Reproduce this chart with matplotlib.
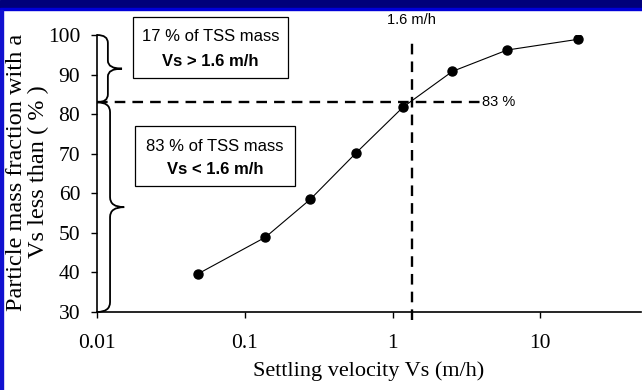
import numpy as np
import matplotlib
matplotlib.use("Agg")
import matplotlib.pyplot as plt
from matplotlib.patches import Rectangle, PathPatch
from matplotlib.path import Path

# settling velocity distribution
velocity = [0.048, 0.138, 0.278, 0.57, 1.18, 2.54, 5.96, 17.9]      # m/h
mass_fraction = [39.6, 48.9, 58.5, 70.3, 81.8, 90.8, 96.2, 98.9]   # %

cut_pos = 1.35        # where the dashed vertical sits on the axis
cut_label = "1.6 m/h"
cut_fraction = 83.0
x_ticks = [0.01, 0.1, 1, 10]
x_tick_labels = ["0.01", "0.1", "1", "10"]
y_ticks = [30, 40, 50, 60, 70, 80, 90, 100]

serif = "Liberation Serif"
sans = "Liberation Sans"

W, H = 642, 390
fig = plt.figure(figsize=(W / 100, H / 100), dpi=100)
fig.patch.set_facecolor("white")

# slide frame: dark top bar and blue left strip
fig.patches.append(Rectangle((0, 1 - 8 / H), 1, 8 / H, transform=fig.transFigure,
                             color="#00007a", zorder=0))
fig.patches.append(Rectangle((0, 1 - 10 / H), 1, 2 / H, transform=fig.transFigure,
                             color="#0000d8", zorder=0))
fig.patches.append(Rectangle((0, 0), 3 / W, 1 - 10 / H, transform=fig.transFigure,
                             color="#1010d0", zorder=0))

ax = fig.add_axes([97 / W, 1 - 312 / H, (641 - 97) / W, (312 - 35) / H])
ax.set_facecolor("none")

ax.plot(velocity, mass_fraction, color="black", lw=0.8, marker="o",
        markersize=6.5, markerfacecolor="black", markeredgecolor="black", zorder=3)

ax.set_xscale("log")
ax.set_xlim(0.01, 48)
ax.set_ylim(30, 100)
ax.set_xticks(x_ticks)
ax.set_xticklabels(x_tick_labels)
ax.xaxis.set_minor_locator(matplotlib.ticker.NullLocator())
ax.set_yticks(y_ticks)

for s in ["top", "right"]:
    ax.spines[s].set_visible(False)
for s in ["left", "bottom"]:
    ax.spines[s].set_linewidth(1.2)

ax.tick_params(axis="x", direction="out", length=4, width=1, pad=12, labelsize=15.5)
ax.tick_params(axis="y", direction="out", length=4, width=1, pad=8, labelsize=15.5)
for lab in ax.get_xticklabels() + ax.get_yticklabels():
    lab.set_fontfamily(serif)

ax.set_xlabel("Settling velocity Vs (m/h)", fontsize=16, family=serif, labelpad=6)
ax.set_ylabel("Particle mass fraction with a\nVs less than ( % )", fontsize=17.5,
              family=serif, linespacing=1.05, va="center", ha="center")
ax.yaxis.set_label_coords(-0.127, 0.505)

# dashed guide lines
ax.plot([0.01, 3.95], [cut_fraction, cut_fraction], color="black", lw=1.7,
        dashes=(4.5, 3), clip_on=False, zorder=2)
ax.plot([cut_pos, cut_pos], [28, 98.9], color="black", lw=1.7,
        dashes=(4.5, 3), clip_on=False, zorder=2)
ax.text(4.05, cut_fraction, "83 %", family=sans, fontsize=10.5, va="center", ha="left")
ax.text(cut_pos, 103.9, cut_label, family=sans, fontsize=10.5, va="center", ha="center")

# annotation boxes
ax.add_patch(Rectangle((0.066, 0.845), 0.285, 0.22, transform=ax.transAxes,
                       fill=False, lw=0.9, edgecolor="black", clip_on=False))
ax.text(0.2086, 0.993, "17 % of TSS mass", transform=ax.transAxes, family=sans,
        fontsize=12, ha="center", va="center")
ax.text(0.2086, 0.906, "Vs > 1.6 m/h", transform=ax.transAxes, family=sans,
        fontsize=12, fontweight="bold", ha="center", va="center")

ax.add_patch(Rectangle((0.070, 0.455), 0.294, 0.216, transform=ax.transAxes,
                       fill=False, lw=0.9, edgecolor="black", clip_on=False))
ax.text(0.217, 0.596, "83 % of TSS mass", transform=ax.transAxes, family=sans,
        fontsize=12, ha="center", va="center")
ax.text(0.217, 0.513, "Vs < 1.6 m/h", transform=ax.transAxes, family=sans,
        fontsize=12, fontweight="bold", ha="center", va="center")


def brace(y_lo, y_hi, x_mid, x_tip, r):
    ym = (y_lo + y_hi) / 2
    verts = [(0, y_hi), (x_mid, y_hi), (x_mid, y_hi - r), (x_mid, ym + r),
             (x_mid, ym), (x_tip, ym), (x_mid, ym), (x_mid, ym - r),
             (x_mid, y_lo + r), (x_mid, y_lo), (0, y_lo)]
    codes = [Path.MOVETO, Path.CURVE3, Path.CURVE3, Path.LINETO,
             Path.CURVE3, Path.CURVE3, Path.CURVE3, Path.CURVE3,
             Path.LINETO, Path.CURVE3, Path.CURVE3]
    ax.add_patch(PathPatch(Path(verts, codes), fill=False, lw=1.3, edgecolor="black",
                           transform=ax.get_yaxis_transform(), clip_on=False))


brace(cut_fraction, 100, 0.02, 0.046, 2.0)
brace(30, cut_fraction, 0.024, 0.05, 2.5)

fig.savefig("out.png", dpi=100)
